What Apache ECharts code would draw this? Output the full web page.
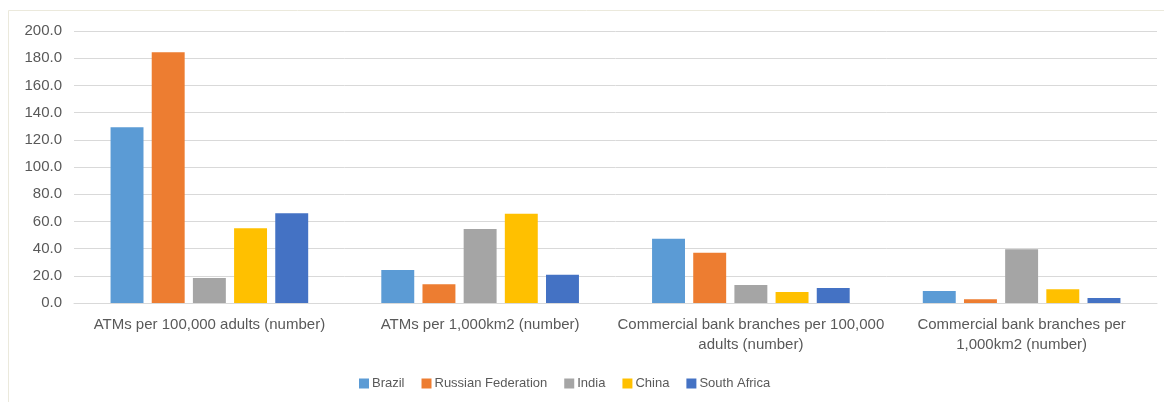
<!DOCTYPE html>
<html><head><meta charset="utf-8">
<script src="https://cdn.jsdelivr.net/npm/echarts@6/dist/echarts.min.js"></script>
<style>html,body{margin:0;padding:0;background:#fff}#c{width:1164px;height:402px}</style>
</head><body><div id="c"></div>
<script>
const categories = [
  "ATMs per 100,000 adults (number)",
  "ATMs per 1,000km2 (number)",
  "Commercial bank branches per 100,000\nadults (number)",
  "Commercial bank branches per\n1,000km2 (number)"
];
const seriesNames = ["Brazil", "Russian Federation", "India", "China", "South Africa"];
const brazil = [129.2, 24.3, 47.3, 8.8];
const russia = [184.3, 13.7, 37.0, 2.7];
const india = [18.4, 54.4, 13.2, 39.5];
const china = [54.9, 65.7, 8.1, 10.1];
const southAfrica = [66.0, 20.8, 11.0, 3.7];
const colors = ["#5B9BD5", "#ED7D31", "#A5A5A5", "#FFC000", "#4472C4"];
const values = [brazil, russia, india, china, southAfrica];

const font = "'Liberation Sans', 'DejaVu Sans', sans-serif";
const chart = echarts.init(document.getElementById('c'), null, {renderer: 'canvas'});
chart.setOption({
  animation: false,
  textStyle: {fontFamily: font},
  graphic: [{
    type: 'rect', shape: {x: 8.5, y: 10.5, width: 1170, height: 400},
    style: {fill: 'none', stroke: '#ebe9dc', lineWidth: 1}, silent: true
  }],
  grid: {left: 74, right: 7, top: 31, bottom: 99, containLabel: false},
  legend: {
    left: 354, top: 372, itemWidth: 10, itemHeight: 10, itemGap: 17,
    icon: 'rect',
    textStyle: {color: '#595959', fontSize: 13, fontFamily: font, padding: [0, 0, 0, -2]},
    data: seriesNames
  },
  xAxis: {
    type: 'category', data: categories,
    axisLine: {show: true, lineStyle: {color: '#d9d9d9', width: 1}},
    axisTick: {show: false},
    axisLabel: {color: '#595959', fontSize: 15, margin: 12, lineHeight: 20, fontFamily: font, interval: 0}
  },
  yAxis: {
    type: 'value', min: 0, max: 200, interval: 20,
    axisLine: {show: false}, axisTick: {show: false},
    splitLine: {lineStyle: {color: '#d9d9d9', width: 1}},
    axisLabel: {color: '#595959', fontSize: 15, margin: 12, fontFamily: font,
      formatter: v => v.toFixed(1)}
  },
  series: seriesNames.map((n, i) => ({
    name: n, type: 'bar', data: values[i],
    itemStyle: {color: colors[i]},
    barGap: '25%', barCategoryGap: '27%'
  }))
});
</script></body></html>
